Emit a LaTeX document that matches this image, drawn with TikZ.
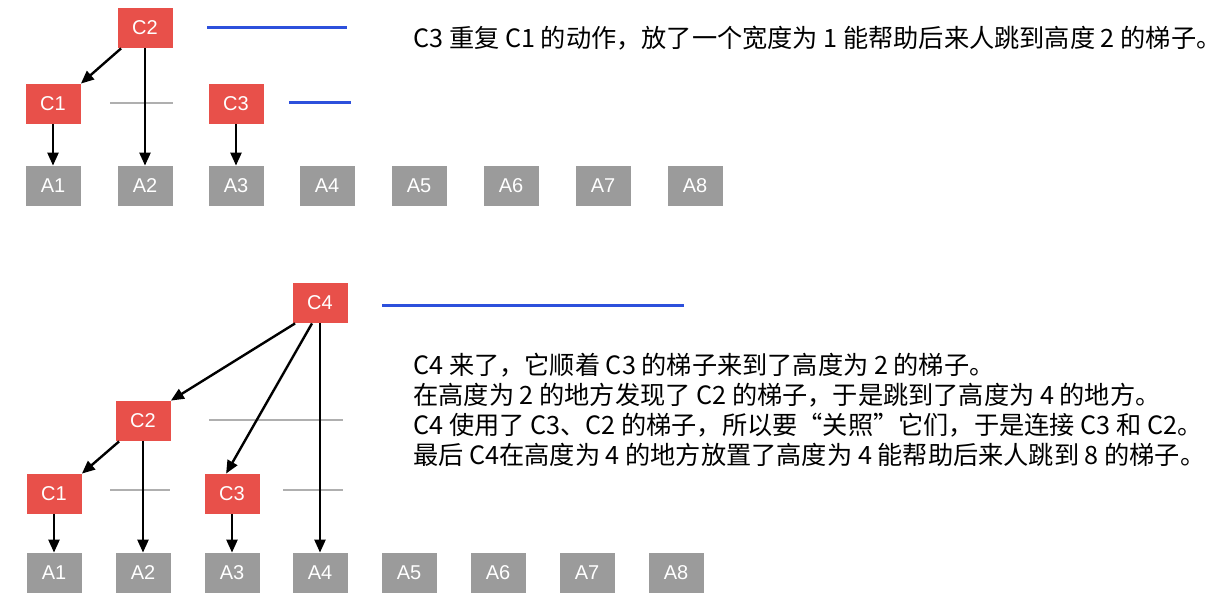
\documentclass[tikz,border=0pt]{standalone}
\usepackage{fontspec}
\setmainfont{Noto Sans CJK SC}
\setsansfont{Liberation Sans}
\usetikzlibrary{arrows.meta, positioning}
\definecolor{cellred}{RGB}{232, 80, 74}
\definecolor{cellgray}{RGB}{155, 155, 155}
\definecolor{ladderblue}{RGB}{45, 80, 220}
\definecolor{stepgray}{RGB}{175, 175, 175}
\tikzstyle{cnode} = [rectangle, fill=cellred, minimum width=27.5pt, minimum height=20pt, inner sep=0pt, text=white, font=\sffamily\fontsize{10}{10}\selectfont]
\tikzstyle{anode} = [rectangle, fill=cellgray, minimum width=27.5pt, minimum height=20pt, inner sep=0pt, text=white, font=\sffamily\fontsize{10}{10}\selectfont]
\tikzstyle{arrow} = [line width=1.2pt, -{Triangle[length=6.5pt, width=5.5pt]}, color=black]
\tikzstyle{ladder} = [line width=1.5pt, color=ladderblue]
\tikzstyle{rung} = [line width=1.1pt, color=stepgray]
\tikzstyle{note} = [anchor=west, align=left, inner sep=0pt, font=\fontsize{12.6}{15}\selectfont]

\begin{document}
\begin{tikzpicture}[x=0.5pt, y=-0.5pt]
\useasboundingbox (0,0) rectangle (1224,604);

% Top: C1, C2, C3
\node (ta1) [anode] at (53,186) {A1};
\node (ta2) [anode] at (145,186) {A2};
\node (ta3) [anode] at (236,186) {A3};
\node (ta4) [anode] at (327,186) {A4};
\node (ta5) [anode] at (419,186) {A5};
\node (ta6) [anode] at (511,186) {A6};
\node (ta7) [anode] at (603,186) {A7};
\node (ta8) [anode] at (695,186) {A8};

\node (tc2) [cnode] at (145,28) {C2};
\node (tc1) [cnode] at (53,104) {C1};
\node (tc3) [cnode] at (236,104) {C3};

\draw [rung] (110,103) -- (173,103);
\draw [ladder] (207,28) -- (347,28);
\draw [ladder] (289,103) -- (351,103);

\draw [arrow] (tc2.south west) ++(4,0) -- (tc1.north east);
\draw [arrow] (tc2) -- (ta2);
\draw [arrow] (tc1) -- (ta1);
\draw [arrow] (tc3) -- (ta3);

\node (toptext) [note] at (413,38) {C3 重复 C1 的动作，放了一个宽度为 1 能帮助后来人跳到高度 2 的梯子。};

% Bottom: C4 arrives
\node (ba1) [anode] at (54,573) {A1};
\node (ba2) [anode] at (143,573) {A2};
\node (ba3) [anode] at (232,573) {A3};
\node (ba4) [anode] at (320,573) {A4};
\node (ba5) [anode] at (409,573) {A5};
\node (ba6) [anode] at (498,573) {A6};
\node (ba7) [anode] at (587,573) {A7};
\node (ba8) [anode] at (676,573) {A8};

\node (bc4) [cnode] at (320,303) {C4};
\node (bc2) [cnode] at (143,421) {C2};
\node (bc1) [cnode] at (54,494) {C1};
\node (bc3) [cnode] at (232,494) {C3};

\draw [rung] (209,420) -- (343,420);
\draw [rung] (110,490) -- (170,490);
\draw [rung] (283,490) -- (343,490);
\draw [ladder] (382,305) -- (684,305);

\draw [arrow] (bc4.south west) ++(3,0) -- (bc2.north east);
\draw [arrow] (bc4.south) ++(-8,0) -- ([xshift=11pt]bc3.north west);
\draw [arrow] (bc4) -- (ba4);
\draw [arrow] (bc2.south west) ++(4,0) -- (bc1.north east);
\draw [arrow] (bc2) -- (ba2);
\draw [arrow] (bc1) -- (ba1);
\draw [arrow] (bc3) -- (ba3);

\node (bottomtext) [note] at (413,410) {C4 来了，它顺着 C3 的梯子来到了高度为 2 的梯子。\\在高度为 2 的地方发现了 C2 的梯子，于是跳到了高度为 4 的地方。\\C4 使用了 C3、C2 的梯子，所以要“关照”它们，于是连接 C3 和 C2。\\最后 C4在高度为 4 的地方放置了高度为 4 能帮助后来人跳到 8 的梯子。};

\end{tikzpicture}
\end{document}
